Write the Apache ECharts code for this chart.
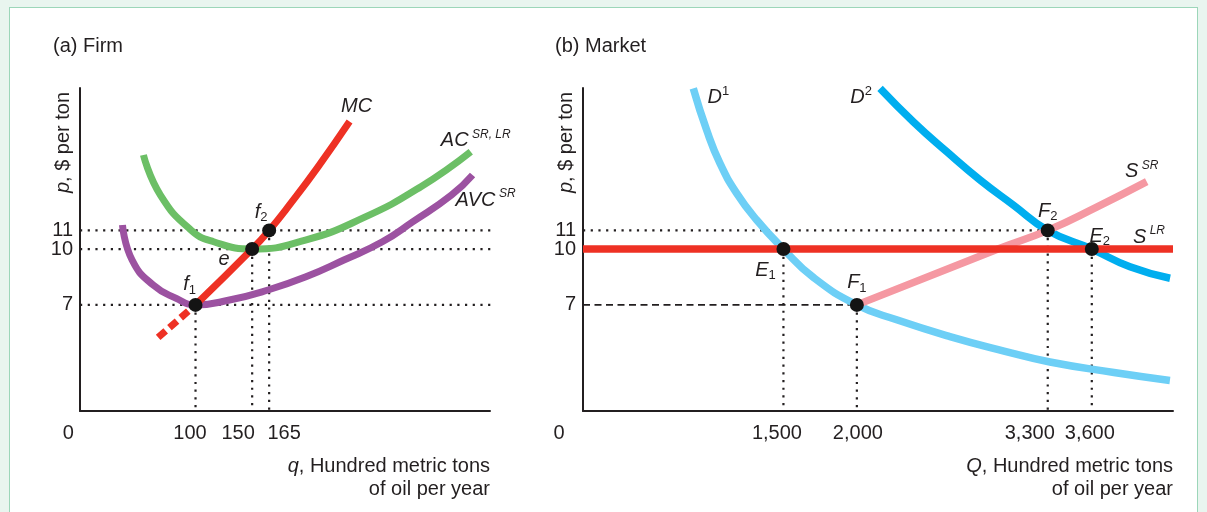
<!DOCTYPE html>
<html><head><meta charset="utf-8">
<script src="https://cdn.jsdelivr.net/npm/echarts@6/dist/echarts.min.js"></script>
<style>
html,body{margin:0;padding:0;background:#e9f5ef;width:1207px;height:512px;overflow:hidden;}
#frame{position:absolute;left:9px;top:7px;width:1187px;height:520px;background:#fff;border:1.5px solid #9cd6b9;}
#chart{position:absolute;left:0;top:0;width:1207px;height:512px;}
</style></head><body>
<div id="frame"></div><div id="chart"></div>
<script>
// ---------- DATA: panel (a) Firm ----------
const priceTicks = [7, 10, 11];
const firmQTicks = [0, 100, 150, 165];
const mcDashed = [[67, 5.25], [100, 7]];
const mcSolid = [[100, 7], [150, 10], [165, 11], [184, 12.45], [208, 14.4], [236, 16.85]];
const ac = [[54, 15.05], [69, 12.9], [96, 11.02], [116, 10.39], [150, 10], [197, 10.48], [248, 11.67], [299, 13.35], [343, 15.23]];
const avc = [[35.5, 11.29], [44, 9.41], [62.5, 8.07], [83, 7.35], [100, 7], [130, 7.26], [164, 7.8], [197.5, 8.51], [231, 9.41], [265, 10.39], [292, 11.47], [326, 12.9], [344.6, 13.98]];
const firmPoints = [[100, 7], [150, 10], [165, 11]];
const firmPointNames = ['f|1', 'e|', 'f|2'];
// ---------- DATA: panel (b) Market ----------
const marketQTicks = [0, 1500, 2000, 3300, 3600];
const d1 = [[886, 18.63], [977, 16.39], [1068, 14.6], [1182, 12.99], [1318, 11.56], [1500, 10], [1703, 8.48], [2000, 7], [2271, 6.2], [2634, 5.3], [3002, 4.52], [3315, 3.93], [3751, 3.37], [4132, 2.94]];
const d2 = [[2158, 18.63], [2384, 16.84], [2612, 15.23], [2839, 13.71], [3065, 12.37], [3300, 11], [3600, 10], [3860, 9.05], [4133, 8.43]];
const sSR = [[2000, 7], [2961, 10], [3300, 11], [3633, 12.25], [3974, 13.62]];
const sLRPrice = 10;
const marketPoints = [[1500, 10], [2000, 7], [3300, 11], [3600, 10]];
const marketPointNames = ['E|1', 'F|1', 'F|2', 'E|2'];

// ---------- axis ranges ----------
const Y_MIN = 1.3, Y_MAX = 18.65;
const FIRM_X = [-2, 360], FIRM_GUIDE_END = 399;
const MKT_X = [135, 4153];

// ---------- styles ----------
const INK = '#231f20';
const FONT = '"Liberation Sans", Arial, Helvetica, sans-serif';
const C = {mc:'#ee3124', ac:'#6cbf66', avc:'#9c52a1', d1:'#6dcff6', d2:'#00aeef', ssr:'#f598a2', slr:'#ee3124', dot:'#141414'};
const rich = {
  i:{fontStyle:'italic', fontSize:20, lineHeight:24, color:INK, fontFamily:FONT},
  sub:{fontSize:13, lineHeight:10, verticalAlign:'bottom', color:INK, fontFamily:FONT},
  supI:{fontStyle:'italic', fontSize:12, lineHeight:12, verticalAlign:'top', color:INK, fontFamily:FONT},
  supN:{fontSize:13, lineHeight:12, verticalAlign:'top', color:INK, fontFamily:FONT}
};
const firmLabelShift = [-14, -5.5, -14, 15];
const mktLabelShift = [-24, -6.5, 1, -18, -2];
const firmPointOffsets = [[-6,-20], [-28,10], [-8,-18]];
const mktPointOffsets = [[-18,21], [0,-22], [0,-19], [8,-13]];

function shiftRich(shifts, prefix) {
  const r = {};
  shifts.forEach((d, k) => {
    r[prefix + k] = {fontSize:20, color:INK, fontFamily:FONT,
      padding: d < 0 ? [0, -2*d, 0, 0] : [0, 0, 0, 2*d]};
  });
  return r;
}
const fmtNum = v => v.toLocaleString('en-US');

function xAxisCfg(idx, range, ticks, shifts, prefix, nameMain, zeroValue) {
  return {
    type:'value', gridIndex:idx, min:range[0], max:range[1],
    splitLine:{show:false}, axisTick:{show:false},
    axisLine:{show:true, onZero:false, lineStyle:{color:INK, width:2}},
    axisLabel:{
      customValues: ticks.map(t => t === 0 && zeroValue !== undefined ? zeroValue : t),
      margin:12, fontSize:20, color:INK, fontFamily:FONT, hideOverlap:false,
      showMinLabel:true, showMaxLabel:true,
      formatter: v => {
        let k = ticks.indexOf(v);
        let txt = fmtNum(v);
        if (zeroValue !== undefined && v === zeroValue) { k = 0; txt = '0'; }
        return '{' + prefix + k + '|' + txt + '}';
      },
      rich: shiftRich(shifts, prefix)
    },
    name: '{i|' + nameMain + '}, Hundred metric tons\nof oil per year',
    nameLocation:'end', nameGap:0, nameMoveOverlap:false,
    nameTextStyle:{align:'right', verticalAlign:'top', padding:[44,0,0,0], lineHeight:23,
      fontSize:20, color:INK, fontFamily:FONT, rich:{i:{fontStyle:'italic', fontSize:20, lineHeight:23, color:INK, fontFamily:FONT}}}
  };
}
// main y axis: line, name and the 7 / 11 labels
function yAxisCfg(idx) {
  return {
    type:'value', gridIndex:idx, min:Y_MIN, max:Y_MAX, position:'left', offset:0,
    splitLine:{show:false}, axisTick:{show:false},
    axisLine:{show:true, onZero:false, lineStyle:{color:INK, width:2}},
    axisLabel:{customValues: priceTicks.filter((t, k) => k !== 1), margin:7, fontSize:20, color:INK, fontFamily:FONT,
      hideOverlap:false, showMinLabel:true, showMaxLabel:true},
    name:'{i|p}, $ per ton', nameLocation:'middle', nameGap:7, nameRotate:90, nameMoveOverlap:false,
    nameTextStyle:{fontSize:20, color:INK, fontFamily:FONT, padding:[0,0,0,214],
      rich:{i:{fontStyle:'italic', fontSize:20, color:INK, fontFamily:FONT}}}
  };
}
// overlay y axis (same scale) carrying the 10 label, so it is not hidden next to 11
function yAxisOverlay(idx) {
  return {
    type:'value', gridIndex:idx, min:Y_MIN, max:Y_MAX, position:'left', offset:0,
    splitLine:{show:false}, axisTick:{show:false}, axisLine:{show:false, onZero:false},
    axisLabel:{customValues: priceTicks.filter((t, k) => k === 1), margin:7, fontSize:20, color:INK, fontFamily:FONT,
      hideOverlap:false, showMinLabel:true, showMaxLabel:true}
  };
}

function line(idx, data, color, width, extra) {
  return Object.assign({
    type:'line', xAxisIndex:idx, yAxisIndex:idx, data:data, symbol:'none', showSymbol:false,
    silent:true, animation:false, smooth:0.5,
    lineStyle:{color:color, width:width, cap:'butt', opacity:1}, z:3
  }, extra || {});
}
const DOT = {type:[2.2,5.5], width:2.2, color:INK, cap:'butt', opacity:1};
const DASH = {type:[7,4.5], width:1.6, color:INK, cap:'butt', opacity:1};
function guide(idx, data, style) {
  return {type:'line', xAxisIndex:idx, yAxisIndex:idx, data:data, symbol:'none', showSymbol:false,
    silent:true, animation:false, clip:false, lineStyle:style, z:1};
}
function ptLabel(name) {
  const [m, s] = name.split('|');
  return '{i|' + m + '}' + (s ? '{sub|' + s + '}' : '');
}
function dots(idx, pts, names, offsets) {
  return {type:'scatter', xAxisIndex:idx, yAxisIndex:idx, symbolSize:14, silent:true, animation:false,
    itemStyle:{color:C.dot, opacity:1}, z:6,
    data: pts.map((p, k) => ({value:p, label:{show:true, position:'inside', offset:offsets[k],
      formatter: ptLabel(names[k]), rich:rich}}))};
}
function tagSeries(idx, items) {
  return {type:'scatter', xAxisIndex:idx, yAxisIndex:idx, symbolSize:1, silent:true, animation:false,
    itemStyle:{color:'rgba(0,0,0,0)', opacity:1}, z:7,
    data: items.map(it => ({value:it.at, label:{show:true, position:'inside', offset:it.offset,
      formatter:it.text, rich:rich}}))};
}

const series = [];
// ----- panel a guides -----
priceTicks.forEach(p => series.push(guide(0, [[FIRM_X[0], p], [FIRM_GUIDE_END, p]], DOT)));
firmPoints.forEach(pt => series.push(guide(0, [[pt[0], pt[1]], [pt[0], Y_MIN]], DOT)));
// ----- panel a curves -----
series.push(line(0, ac, C.ac, 7));
series.push(line(0, avc, C.avc, 7));
series.push(line(0, mcDashed, C.mc, 7, {smooth:false, lineStyle:{color:C.mc, width:7, type:[10,5], cap:'butt'}}));
series.push(line(0, mcSolid, C.mc, 7, {z:4}));
series.push(dots(0, firmPoints, firmPointNames, firmPointOffsets));
series.push(tagSeries(0, [
  {at: mcSolid[mcSolid.length-1], text:'{i|MC}', offset:[7,-15]},
  {at: ac[ac.length-1], text:'{i|AC}{supI| SR, LR}', offset:[5,-11]},
  {at: avc[avc.length-1], text:'{i|AVC}{supI| SR}', offset:[13,25]}
]));
// ----- panel b guides -----
series.push(guide(1, [[MKT_X[0], 11], [marketPoints[2][0], 11]], DOT));
series.push(guide(1, [[MKT_X[0], 7], [marketPoints[1][0], 7]], DASH));
marketPoints.forEach(pt => series.push(guide(1, [[pt[0], pt[1]], [pt[0], Y_MIN]], DOT)));
// ----- panel b curves -----
series.push(line(1, d1, C.d1, 7.5));
series.push(line(1, d2, C.d2, 7.5));
series.push(line(1, sSR, C.ssr, 7.5));
series.push(line(1, [[MKT_X[0], sLRPrice], [MKT_X[1], sLRPrice]], C.slr, 7.5, {smooth:false, z:5}));
series.push(dots(1, marketPoints, marketPointNames, mktPointOffsets));
series.push(tagSeries(1, [
  {at: d1[0], text:'{i|D}{supN|1}', offset:[25,9]},
  {at: d2[0], text:'{i|D}{supN|2}', offset:[-19,9]},
  {at: sSR[sSR.length-1], text:'{i|S}{supI| SR}', offset:[-5,-10]},
  {at: [MKT_X[1], sLRPrice], text:'{i|S}{supI| LR}', offset:[-24,-12]}
]));

const chart = echarts.init(document.getElementById('chart'), null, {renderer:'canvas'});
chart.setOption({
  backgroundColor:'transparent',
  animation:false,
  textStyle:{fontFamily:FONT},
  title:[
    {text:'(a) Firm', left:53, top:36, padding:0, textStyle:{fontSize:20, fontWeight:'normal', color:INK, fontFamily:FONT}},
    {text:'(b) Market', left:555, top:36, padding:0, textStyle:{fontSize:20, fontWeight:'normal', color:INK, fontFamily:FONT}}
  ],
  grid:[
    {left:80, top:88, width:410, height:323, containLabel:false, outerBoundsMode:'none'},
    {left:583, top:88, width:590, height:323, containLabel:false, outerBoundsMode:'none'}
  ],
  xAxis:[
    xAxisCfg(0, FIRM_X, firmQTicks, firmLabelShift, 'fa', 'q'),
    xAxisCfg(1, MKT_X, marketQTicks, mktLabelShift, 'mk', 'Q', MKT_X[0])
  ],
  yAxis:[yAxisCfg(0), yAxisCfg(1), yAxisOverlay(0), yAxisOverlay(1)],
  series: series
});
</script>
</body></html>
